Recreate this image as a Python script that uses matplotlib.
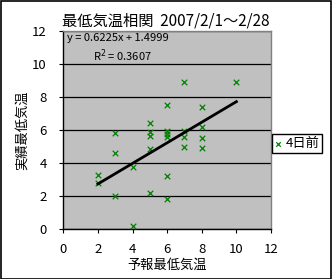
import matplotlib
matplotlib.use("Agg")
import matplotlib.pyplot as plt
from matplotlib.patches import Rectangle
import numpy as np

plt.rcParams['font.family'] = ['Noto Sans CJK JP', 'DejaVu Sans']

# Data: forecast min temp (x) vs actual min temp (y), 4 days ahead
forecast = [2, 2, 3, 3, 3, 4, 4, 5, 5, 5, 5, 5, 6, 6, 6, 6, 6, 6, 7, 7, 7, 7, 8, 8, 8, 8, 10]
actual = [3.3, 2.8, 5.8, 4.6, 2.0, 3.75, 0.2, 6.45, 5.9, 5.65, 4.85, 2.2,
          7.5, 5.95, 5.75, 5.6, 3.2, 1.85, 8.9, 5.95, 5.6, 5.0, 7.4, 6.2, 5.5, 4.9, 8.9]
slope = 0.6225
intercept = 1.4999
r2 = 0.3607
series_name = "4日前"
title = "最低気温相関  2007/2/1～2/28"
xlabel = "予報最低気温"
ylabel = "実績最低気温"
ticks = [0, 2, 4, 6, 8, 10, 12]

W, H = 332, 279
fig = plt.figure(figsize=(W / 100, H / 100), dpi=100)
fig.patch.set_facecolor('white')
fig.patches.append(Rectangle((0.5 / W, 0.5 / H), 1 - 1.5 / W, 1 - 1.5 / H, transform=fig.transFigure,
                             fill=False, edgecolor='black', linewidth=1.2))

ax = fig.add_axes([63.3 / W, 1 - 229.3 / H, (271 - 63.3) / W, (229.3 - 31) / H])
ax.set_facecolor('#C0C0C0')
ax.set_xlim(0, 12)
ax.set_ylim(0, 12)
ax.set_xticks(ticks)
ax.set_yticks(ticks)
ax.set_xticklabels([str(t) for t in ticks], fontsize=9.5)
ax.set_yticklabels([str(t) for t in ticks], fontsize=9.5)
ax.tick_params(axis='x', direction='out', length=3, width=0.8, colors='black', pad=7)
ax.tick_params(axis='y', direction='out', length=3, width=0.8, colors='black', pad=9)
ax.grid(axis='y', color='black', linewidth=0.9)
ax.set_axisbelow(True)
for s in ['left', 'bottom']:
    ax.spines[s].set_color('black')
    ax.spines[s].set_linewidth(1)
for s in ['top', 'right']:
    ax.spines[s].set_color('#808080')
    ax.spines[s].set_linewidth(1)

ax.scatter(forecast, actual, marker='x', s=16, color='#008000', linewidths=0.9,
           label=series_name, zorder=3)
xs = np.array([min(forecast), max(forecast)])
ax.plot(xs, slope * xs + intercept, color='black', linewidth=2, zorder=4)

ax.text(0.2, 11.55, f"y = {slope:.4f}x + {intercept:.4f}", fontsize=8, ha='left', va='center')
ax.text(1.7, 10.5, f"R$^2$ = {r2:.4f}", fontsize=8, ha='left', va='center')

fig.text(166 / W, 1 - 21 / H, title, fontsize=11, ha='center', va='center')
fig.text(167 / W, 1 - 265 / H, xlabel, fontsize=9.5, ha='center', va='center')
fig.text(22 / W, 1 - 130 / H, ylabel, fontsize=9.5, ha='center', va='center', rotation=90)

leg = fig.legend(loc='center', bbox_to_anchor=(297 / W, 1 - 143.5 / H), fontsize=9.5,
                 frameon=True, fancybox=False, edgecolor='black', framealpha=1,
                 handlelength=0.5, handletextpad=0.3, borderpad=0.2, markerscale=0.8)
leg.get_frame().set_linewidth(1)

fig.savefig('out.png', dpi=100)
